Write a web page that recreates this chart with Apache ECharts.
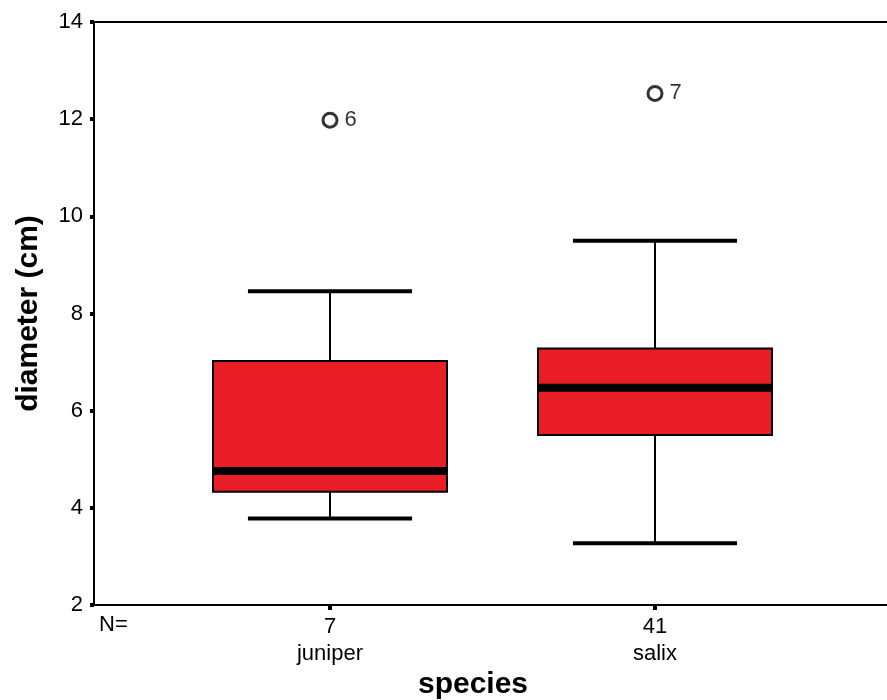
<!DOCTYPE html>
<html>
<head>
<meta charset="utf-8">
<title>diameter by species</title>
<script src="https://cdn.jsdelivr.net/npm/echarts@6/dist/echarts.min.js"></script>
<style>
  html, body { margin: 0; padding: 0; background: #fff; }
  #chart { width: 887px; height: 700px; }
</style>
</head>
<body>
<div id="chart"></div>
<script>
// Species groups and their sample sizes
const species = ['juniper', 'salix'];
const sampleSizes = [7, 41];

// Five-number summaries per species: [lower whisker, Q1, median, Q3, upper whisker]
const boxStats = [
  [3.78, 4.33, 4.76, 7.02, 8.46],
  [3.27, 5.5, 6.47, 7.28, 9.5]
];

// Outliers: [species index, value, case number]
const outliers = [
  [0, 11.98, 6],
  [1, 12.53, 7]
];

// Y axis ticks
const yMin = 2, yMax = 14, yStep = 2;

const RED = '#e81d25';
const INK = '#000';
const FONT = 'Liberation Sans, Arial, sans-serif';

const chart = echarts.init(document.getElementById('chart'), null, { renderer: 'canvas' });

function renderBox(params, api) {
  const idx = api.value(0);
  const lo = api.value(1), q1 = api.value(2), med = api.value(3), q3 = api.value(4), hi = api.value(5);
  const band = api.size([1, 0])[0];
  const boxW = band * 0.72;
  const capW = band * 0.505;
  const pLo = api.coord([idx, lo]);
  const pQ1 = api.coord([idx, q1]);
  const pMed = api.coord([idx, med]);
  const pQ3 = api.coord([idx, q3]);
  const pHi = api.coord([idx, hi]);
  const cx = pMed[0];
  const line = (x1, y1, x2, y2, w) => ({
    type: 'line',
    shape: { x1, y1, x2, y2 },
    style: { stroke: '#000', lineWidth: w, lineCap: 'butt' }
  });
  return {
    type: 'group',
    children: [
      line(cx, pHi[1], cx, pQ3[1], 2),
      line(cx, pQ1[1], cx, pLo[1], 2),
      line(cx - capW / 2, pHi[1], cx + capW / 2, pHi[1], 4),
      line(cx - capW / 2, pLo[1], cx + capW / 2, pLo[1], 4),
      {
        type: 'rect',
        shape: { x: cx - boxW / 2, y: pQ3[1], width: boxW, height: pQ1[1] - pQ3[1] },
        style: { fill: RED, stroke: '#000', lineWidth: 2 }
      },
      line(cx - boxW / 2, pMed[1], cx + boxW / 2, pMed[1], 8)
    ]
  };
}

const option = {
  backgroundColor: '#fff',
  animation: false,
  grid: [
    // frame with the value axis; its right edge runs past the canvas
    {
      left: 94, top: 22, width: 830, bottom: 95, outerBoundsMode: 'none',
      show: true, borderColor: '#000', borderWidth: 2, backgroundColor: 'transparent'
    },
    // species bands
    { left: 167.5, top: 22, width: 650, bottom: 95, outerBoundsMode: 'none' }
  ],
  xAxis: [
    {
      gridIndex: 0, type: 'category', data: [''],
      axisLine: { show: true, lineStyle: { color: '#000', width: 2 } },
      axisTick: { show: false }, axisLabel: { show: false }, splitLine: { show: false }
    },
    {
      gridIndex: 1, type: 'category', data: species, boundaryGap: true,
      axisLine: { show: false },
      axisTick: { show: true, alignWithLabel: true, length: 5, lineStyle: { color: '#000', width: 4 } },
      axisLabel: {
        margin: 8,
        formatter: (v, i) => '{n|' + sampleSizes[i] + '}\n{c|' + v + '}',
        rich: {
          n: { fontFamily: FONT, fontSize: 22, color: INK, lineHeight: 27, align: 'center' },
          c: { fontFamily: FONT, fontSize: 22, color: INK, lineHeight: 27, align: 'center' }
        }
      },
      name: 'species', nameLocation: 'middle', nameGap: 65,
      nameTextStyle: { fontFamily: FONT, fontSize: 30, fontWeight: 'bold', color: INK, padding: [0, 39, 0, 0] },
      splitLine: { show: false }
    }
  ],
  yAxis: [
    {
      gridIndex: 0, type: 'value', min: yMin, max: yMax, interval: yStep,
      axisLine: { show: true, lineStyle: { color: '#000', width: 2 } },
      axisTick: { show: true, length: 4, lineStyle: { color: '#000', width: 4 } },
      axisLabel: { margin: 11, fontFamily: FONT, fontSize: 22, color: INK },
      splitLine: { show: false },
      name: 'diameter (cm)', nameLocation: 'middle', nameGap: 50,
      nameTextStyle: { fontFamily: FONT, fontSize: 30, fontWeight: 'bold', color: INK }
    },
    {
      gridIndex: 1, type: 'value', min: yMin, max: yMax, interval: yStep, show: false
    }
  ],
  graphic: [
    {
      type: 'text', left: 99, top: 614,
      style: { text: 'N=', fontFamily: FONT, fontSize: 22, fill: INK }
    }
  ],
  series: [
    {
      type: 'custom',
      xAxisIndex: 1, yAxisIndex: 1,
      renderItem: renderBox,
      encode: { x: 0, y: [1, 2, 3, 4, 5] },
      data: boxStats.map((s, i) => [i].concat(s)),
      z: 3
    },
    {
      type: 'scatter',
      xAxisIndex: 1, yAxisIndex: 1,
      symbol: 'circle', symbolSize: 14,
      itemStyle: { color: '#fff', borderColor: '#000', borderWidth: 3 },
      label: {
        show: true, position: 'right', distance: 6,
        formatter: p => String(p.value[2]),
        fontFamily: FONT, fontSize: 22, color: INK
      },
      data: outliers.map(o => [o[0], o[1], o[2]]),
      z: 4
    }
  ]
};

chart.setOption(option);
</script>
</body>
</html>
